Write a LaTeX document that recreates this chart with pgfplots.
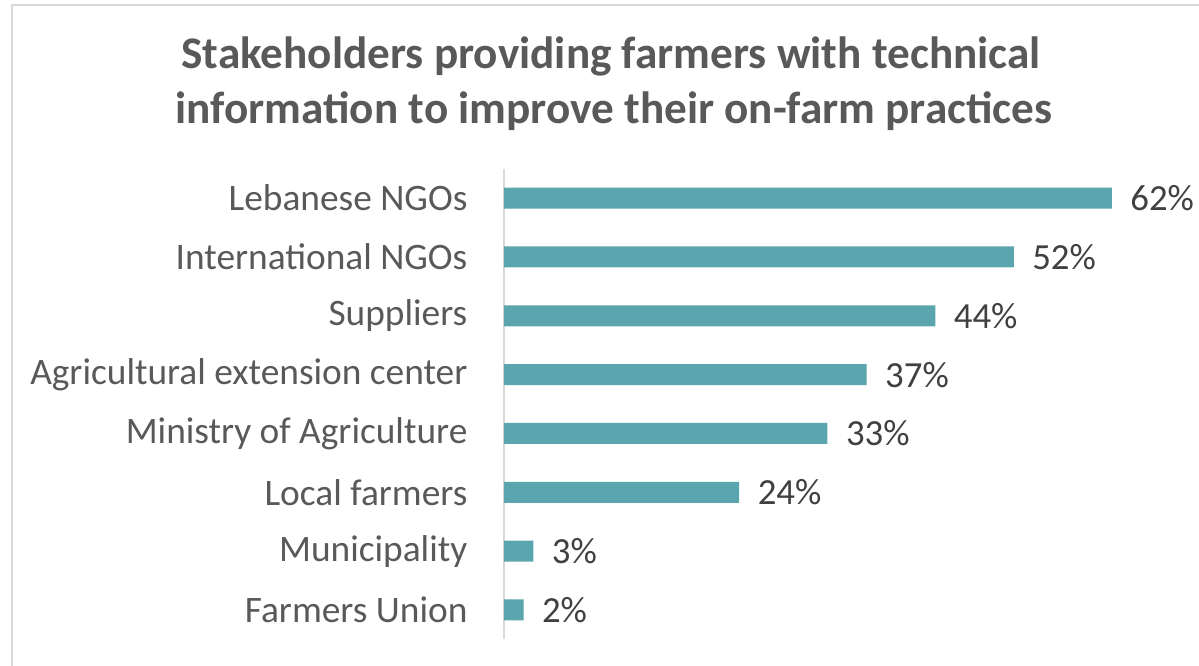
\documentclass[border=0pt]{standalone}
\usepackage{fontspec}
\setmainfont{Carlito}
\usepackage{pgfplots}
\pgfplotsset{compat=1.18}
\definecolor{barfill}{HTML}{5AA5AE}
\definecolor{lbl}{HTML}{595959}
\definecolor{val}{HTML}{404040}
\definecolor{framegray}{HTML}{D9D9D9}

\begin{document}
\begin{tikzpicture}[x=0.012510cm, y=0.012510cm]
% page: 1199 x 666 px, y measured from the bottom
\useasboundingbox (0,0) rectangle (1199,666);
\draw[framegray, line width=0.025cm] (12,0) -- (12,661) -- (1199,661);

\node[anchor=base, text=lbl, font=\fontsize{16.1}{18}\selectfont\bfseries, inner sep=0pt]
  at (611,597) {Stakeholders providing farmers with technical};
\node[anchor=base, text=lbl, font=\fontsize{16.1}{18}\selectfont\bfseries, inner sep=0pt]
  at (614,542) {information to improve their on-farm practices};

\begin{axis}[
  at={(6.305cm,0.333cm)}, anchor=south west,
  scale only axis,
  width=7.606cm, height=5.890cm,
  xbar, bar width=0.263cm,
  xmin=0, xmax=62,
  ymin=-0.5, ymax=7.5, y dir=reverse,
  axis x line=none,
  axis y line*=left,
  y axis line style={draw=framegray, line width=0.02cm, -},
  major tick length=0pt,
  ytick={0,...,7},
  yticklabels={Lebanese NGOs, International NGOs, Suppliers, Agricultural extension center,
    Ministry of Agriculture, Local farmers, Municipality, Farmers Union},
  yticklabel style={font=\fontsize{13.3}{14}\selectfont, text=lbl, anchor=east, inner sep=0pt, xshift=-0.45cm},
  clip=false,
  point meta=x,
  /pgf/number format/assume math mode=true,
  nodes near coords={\pgfmathprintnumber{\pgfplotspointmeta}\%},
  nodes near coords style={font=\fontsize{13.1}{14}\selectfont, text=val, anchor=west, inner sep=0pt, xshift=0.225cm},
]
\addplot[fill=barfill, draw=none] coordinates {
  (62,0) (52,1) (44,2) (37,3) (33,4) (24,5) (3,6) (2,7)
};
\end{axis}
\end{tikzpicture}
\end{document}
